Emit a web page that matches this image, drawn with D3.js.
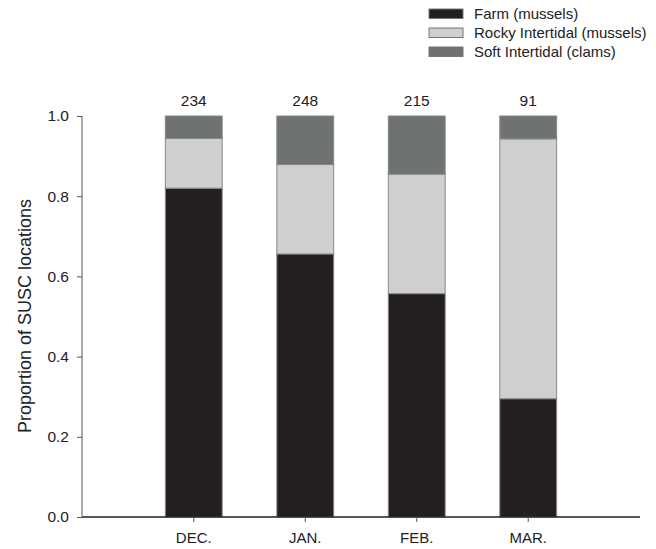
<!DOCTYPE html>
<html><head><meta charset="utf-8">
<script src="https://cdn.jsdelivr.net/npm/d3@7"></script>
<style>body{margin:0;background:#fff;} text{font-family:"Liberation Sans",Arial,sans-serif;fill:#222;}</style>
</head><body><svg id="c" width="656" height="549"></svg>
<script>
const months = ["DEC.", "JAN.", "FEB.", "MAR."];
const counts = [234, 248, 215, 91];
const farm = [0.820, 0.656, 0.557, 0.295];
const rocky = [0.124, 0.223, 0.298, 0.648];
const soft = [0.056, 0.121, 0.145, 0.057];
const seriesNames = ["Farm (mussels)", "Rocky Intertidal (mussels)", "Soft Intertidal (clams)"];
const seriesColors = ["#231f20", "#cfcfcf", "#6e7272"];
const yTicks = [0, 0.2, 0.4, 0.6, 0.8, 1.0];

const FONT = "Liberation Sans, Arial, sans-serif";
const svg = d3.select("#c");
const x = d3.scaleBand().domain(months).range([82, 640]).paddingInner(0.49).paddingOuter(0.7475);
const y = d3.scaleLinear().domain([0, 1]).range([517, 116]);

const rows = months.map((m, i) => ({month: m, farm: farm[i], rocky: rocky[i], soft: soft[i]}));
const stack = d3.stack().keys(["farm", "rocky", "soft"])(rows);

svg.append("g").selectAll("g").data(stack).join("g")
  .attr("fill", (d, i) => seriesColors[i])
  .selectAll("rect").data(d => d).join("rect")
  .attr("x", d => x(d.data.month))
  .attr("width", x.bandwidth())
  .attr("y", d => y(d[1]))
  .attr("height", d => y(d[0]) - y(d[1]))
  .attr("stroke", "#888").attr("stroke-width", 1);

// y axis
const ya = svg.append("g").attr("transform", "translate(82,0)")
  .call(d3.axisLeft(y).tickValues(yTicks).tickFormat(d3.format(".1f")).tickSize(5).tickPadding(8));
ya.select(".domain").attr("stroke", "#555").attr("d", "M0,116V517");
ya.selectAll(".tick line").attr("stroke", "#555");
ya.selectAll("text").attr("font-size", 15.5).attr("fill", "#222").style("font-family", FONT);

// x axis
const xa = svg.append("g").attr("transform", "translate(0,517)")
  .call(d3.axisBottom(x).tickSize(5).tickPadding(10));
xa.select(".domain").attr("stroke", "#222").attr("stroke-width", 1.3).attr("d", "M82,0H640");
xa.selectAll(".tick line").attr("stroke", "#555");
xa.selectAll("text").attr("font-size", 15).attr("fill", "#222").style("font-family", FONT);

// counts
svg.append("g").selectAll("text").data(months).join("text")
  .attr("x", d => x(d) + x.bandwidth() / 2).attr("y", 106)
  .attr("text-anchor", "middle").attr("font-size", 15.5).text((d, i) => counts[i]);

// y title
svg.append("text").attr("transform", "translate(31,316) rotate(-90)")
  .attr("text-anchor", "middle").attr("font-size", 18).text("Proportion of SUSC locations");

// legend
const lg = svg.append("g").selectAll("g").data(seriesNames).join("g")
  .attr("transform", (d, i) => `translate(429,${9 + i * 19})`);
lg.append("rect").attr("width", 34).attr("height", 9.5)
  .attr("fill", (d, i) => seriesColors[i]).attr("stroke", "#777").attr("stroke-width", 1);
lg.append("text").attr("x", 45).attr("y", 10.3).attr("font-size", 15).text(d => d);
</script></body></html>
